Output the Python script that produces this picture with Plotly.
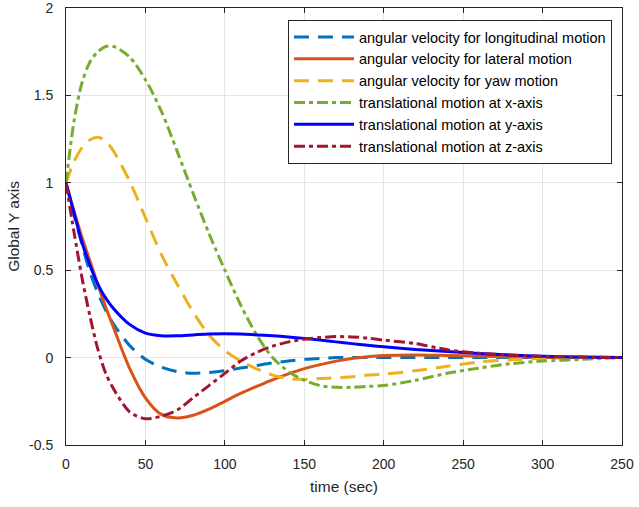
import plotly.graph_objects as go

T = [0, 5, 10, 15, 20, 25, 30, 40, 50, 60, 70, 80, 90, 100, 110, 120, 130, 140,
     150, 160, 170, 180, 190, 200, 220, 240, 260, 280, 300, 325, 350]

ang_long = [1, 0.82, 0.65, 0.49, 0.37, 0.27, 0.19, 0.07, -0.01, -0.055, -0.08, -0.09, -0.085,
            -0.075, -0.06, -0.045, -0.03, -0.02, -0.01, -0.005, 0, 0, 0, 0, 0, 0, 0, 0, 0, 0, 0]
ang_lat = [1, 0.84, 0.69, 0.555, 0.42, 0.29, 0.17, -0.06, -0.23, -0.325, -0.345, -0.33, -0.295,
           -0.25, -0.205, -0.165, -0.127, -0.093, -0.063, -0.04, -0.02, -0.005, 0.005, 0.012,
           0.015, 0.012, 0.008, 0.004, 0.002, 0, 0]
ang_yaw = [1, 1.12, 1.2, 1.245, 1.26, 1.24, 1.18, 1.01, 0.80, 0.59, 0.42, 0.26, 0.13, 0.04,
           -0.02, -0.065, -0.10, -0.12, -0.125, -0.12, -0.115, -0.11, -0.10, -0.095, -0.075,
           -0.05, -0.025, -0.012, -0.005, 0, 0]
tr_x = [1, 1.35, 1.57, 1.69, 1.75, 1.78, 1.78, 1.72, 1.59, 1.41, 1.18, 0.94, 0.71, 0.50, 0.30,
        0.13, 0.0, -0.08, -0.13, -0.16, -0.17, -0.17, -0.165, -0.16, -0.13, -0.09, -0.06,
        -0.035, -0.02, -0.01, 0]
tr_y = [1, 0.83, 0.66, 0.53, 0.42, 0.34, 0.28, 0.19, 0.14, 0.125, 0.125, 0.13, 0.135, 0.137,
        0.135, 0.13, 0.125, 0.118, 0.11, 0.10, 0.09, 0.08, 0.07, 0.062, 0.047, 0.035, 0.024,
        0.015, 0.008, 0.003, 0]
tr_z = [1, 0.72, 0.46, 0.24, 0.05, -0.09, -0.18, -0.31, -0.35, -0.335, -0.30, -0.23, -0.16,
        -0.09, -0.02, 0.03, 0.065, 0.09, 0.105, 0.115, 0.12, 0.118, 0.112, 0.10, 0.08, 0.045,
        0.025, 0.014, 0.007, 0.003, 0]

names = ["angular velocity for longitudinal motion", "angular velocity for lateral motion",
         "angular velocity for yaw motion", "translational motion at x-axis",
         "translational motion at y-axis", "translational motion at z-axis"]
series = [ang_long, ang_lat, ang_yaw, tr_x, tr_y, tr_z]
colors = ["#0072BD", "#D95319", "#EDB120", "#77AC30", "#0000FF", "#A2142F"]
dashes = ["15px,9px", "solid", "15px,9px", "11px,4px,4px,4px", "solid", "11px,4px,4px,4px"]

x_tickvals = [0, 50, 100, 150, 200, 250, 300, 350]
x_ticktext = ["0", "50", "100", "150", "200", "250", "300", "250"]
y_tickvals = [-0.5, 0, 0.5, 1, 1.5, 2]
y_ticktext = ["-0.5", "0", "0.5", "1", "1.5", "2"]

fig = go.Figure()
for n, s, c, d in zip(names, series, colors, dashes):
    fig.add_trace(go.Scatter(x=T, y=s, name=n, mode="lines",
                             line=dict(color=c, width=3, dash=d, shape="spline", smoothing=0.8)))

axcol = "#262626"
fig.update_layout(
    width=639, height=507,
    margin=dict(l=66, r=17, t=8, b=62, autoexpand=False),
    paper_bgcolor="white", plot_bgcolor="white",
    font=dict(family="Liberation Sans, Arial, sans-serif", color=axcol, size=14),
    showlegend=True,
    legend=dict(x=0.982, y=0.9725, xanchor="right", yanchor="top",
                bgcolor="white", bordercolor=axcol, borderwidth=1, itemwidth=60,
                font=dict(size=14.5, color="#000000"), tracegroupgap=0),
)
fig.update_xaxes(range=[0, 350], tickvals=x_tickvals, ticktext=x_ticktext, automargin=False,
                 showgrid=True, gridcolor="#e5e5e5", zeroline=False,
                 showline=True, linecolor=axcol, mirror="ticks", ticks="inside",
                 ticklen=5, tickcolor=axcol, ticklabeloverflow="allow", ticklabelstandoff=6,
                 title=dict(text="time (sec)", font=dict(size=15.5), standoff=10))
fig.update_yaxes(range=[-0.5, 2], tickvals=y_tickvals, ticktext=y_ticktext, automargin=False,
                 showgrid=True, gridcolor="#e5e5e5", zeroline=False,
                 showline=True, linecolor=axcol, mirror="ticks", ticks="inside",
                 ticklen=5, tickcolor=axcol, ticklabeloverflow="allow", ticklabelstandoff=9,
                 title=dict(text="Global Y axis", font=dict(size=15.5), standoff=5))
fig.write_html("out.html", config={"displayModeBar": False},
               post_script="document.body.style.margin='0';")
